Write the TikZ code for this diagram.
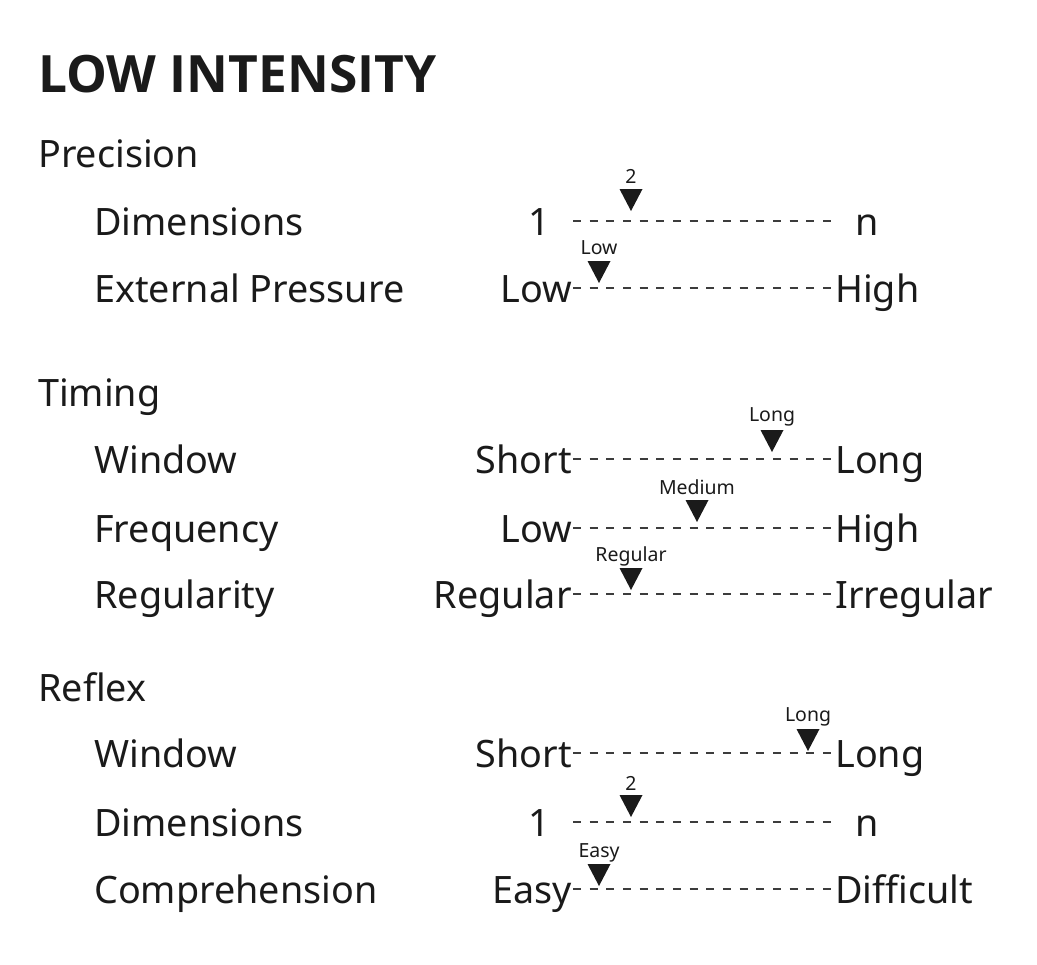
\documentclass[tikz,border=0pt]{standalone}
\usepackage{fontspec}
\setmainfont{Noto Sans}
\newfontfamily\titlefont{Open Sans}
\usepackage{xcolor}
\definecolor{ink}{HTML}{1A1A1A}
\definecolor{dashgray}{HTML}{3C3C3C}

\begin{document}
\begin{tikzpicture}[line cap=butt,line join=miter,x=0.75pt,y=-0.75pt,
		every node/.style={inner sep=0pt,text=ink},
		title/.style={anchor=base west,font=\titlefont\fontsize{38.6}{46}\selectfont\bfseries},
		group/.style={anchor=base west,font=\fontsize{28.3}{34}\selectfont},
		item/.style={anchor=base west,font=\fontsize{28.3}{34}\selectfont},
		lowend/.style={anchor=base east,font=\fontsize{28.3}{34}\selectfont},
		highend/.style={anchor=base west,font=\fontsize{28.3}{34}\selectfont},
		scaleline/.style={draw=dashgray,line width=1.7pt,dash pattern=on 6pt off 6.5pt},
		pointer/.style={fill=ink},
		tag/.style={anchor=center,font=\fontsize{14.6}{17}\selectfont}]
		\useasboundingbox (0,0) rectangle (1037,964);
		\node[title] (head) at (38,92) {LOW INTENSITY};
		% precision
		\node[group] (precision) at (38,167) {Precision};
		\node[item] (pdim) at (94,235) {Dimensions};
		\node[lowend] (pdimlo) at (550,235) {1};
		\node[highend] (pdimhi) at (855,235) {n};
		\coordinate (pdimA) at (573,221);
		\coordinate (pdimB) at (834,221);
		\draw[scaleline] (pdimA) -- (pdimB);
		\node[item] (pext) at (94,302) {External Pressure};
		\node[lowend] (pextlo) at (572,302) {Low};
		\node[highend] (pexthi) at (835,302) {High};
		\coordinate (pextA) at (573,288);
		\coordinate (pextB) at (834,288);
		\draw[scaleline] (pextA) -- (pextB);
		% timing
		\node[group] (timing) at (38,406) {Timing};
		\node[item] (twin) at (94,473) {Window};
		\node[lowend] (twinlo) at (572,473) {Short};
		\node[highend] (twinhi) at (835,473) {Long};
		\coordinate (twinA) at (573,459);
		\coordinate (twinB) at (834,459);
		\draw[scaleline] (twinA) -- (twinB);
		\node[item] (tfreq) at (94,542) {Frequency};
		\node[lowend] (tfreqlo) at (572,542) {Low};
		\node[highend] (tfreqhi) at (835,542) {High};
		\coordinate (tfreqA) at (573,528);
		\coordinate (tfreqB) at (834,528);
		\draw[scaleline] (tfreqA) -- (tfreqB);
		\node[item] (treg) at (94,608) {Regularity};
		\node[lowend] (treglo) at (572,608) {Regular};
		\node[highend] (treghi) at (835,608) {Irregular};
		\coordinate (tregA) at (573,594);
		\coordinate (tregB) at (834,594);
		\draw[scaleline] (tregA) -- (tregB);
		% reflex
		\node[group] (reflex) at (38,701) {Reflex};
		\node[item] (rwin) at (94,767) {Window};
		\node[lowend] (rwinlo) at (572,767) {Short};
		\node[highend] (rwinhi) at (835,767) {Long};
		\coordinate (rwinA) at (573,753);
		\coordinate (rwinB) at (834,753);
		\draw[scaleline] (rwinA) -- (rwinB);
		\node[item] (rdim) at (94,836) {Dimensions};
		\node[lowend] (rdimlo) at (550,836) {1};
		\node[highend] (rdimhi) at (855,836) {n};
		\coordinate (rdimA) at (573,822);
		\coordinate (rdimB) at (834,822);
		\draw[scaleline] (rdimA) -- (rdimB);
		\node[item] (rcomp) at (94,903) {Comprehension};
		\node[lowend] (rcomplo) at (572,903) {Easy};
		\node[highend] (rcomphi) at (835,903) {Difficult};
		\coordinate (rcompA) at (573,889);
		\coordinate (rcompB) at (834,889);
		\draw[scaleline] (rcompA) -- (rcompB);
		% pointers
		\fill[pointer] (631,211) -- ++(-11.5,-22) -- ++(23,0) -- cycle;
		\node[tag] (pdimtag) at (631,176) {2};
		\fill[pointer] (599,283) -- ++(-11.5,-22) -- ++(23,0) -- cycle;
		\node[tag] (pexttag) at (599,248) {Low};
		\fill[pointer] (772,452) -- ++(-11.5,-22) -- ++(23,0) -- cycle;
		\node[tag] (twintag) at (772,417) {Long};
		\fill[pointer] (697,522) -- ++(-11.5,-22) -- ++(23,0) -- cycle;
		\node[tag] (tfreqtag) at (697,487) {Medium};
		\fill[pointer] (631,590) -- ++(-11.5,-22) -- ++(23,0) -- cycle;
		\node[tag] (tregtag) at (631,556) {Regular};
		\fill[pointer] (808,751) -- ++(-11.5,-22) -- ++(23,0) -- cycle;
		\node[tag] (rwintag) at (808,717) {Long};
		\fill[pointer] (631,817) -- ++(-11.5,-22) -- ++(23,0) -- cycle;
		\node[tag] (rdimtag) at (631,783) {2};
		\fill[pointer] (599,886) -- ++(-11.5,-22) -- ++(23,0) -- cycle;
		\node[tag] (rcomptag) at (599,853) {Easy};
	\end{tikzpicture}
\end{document}
